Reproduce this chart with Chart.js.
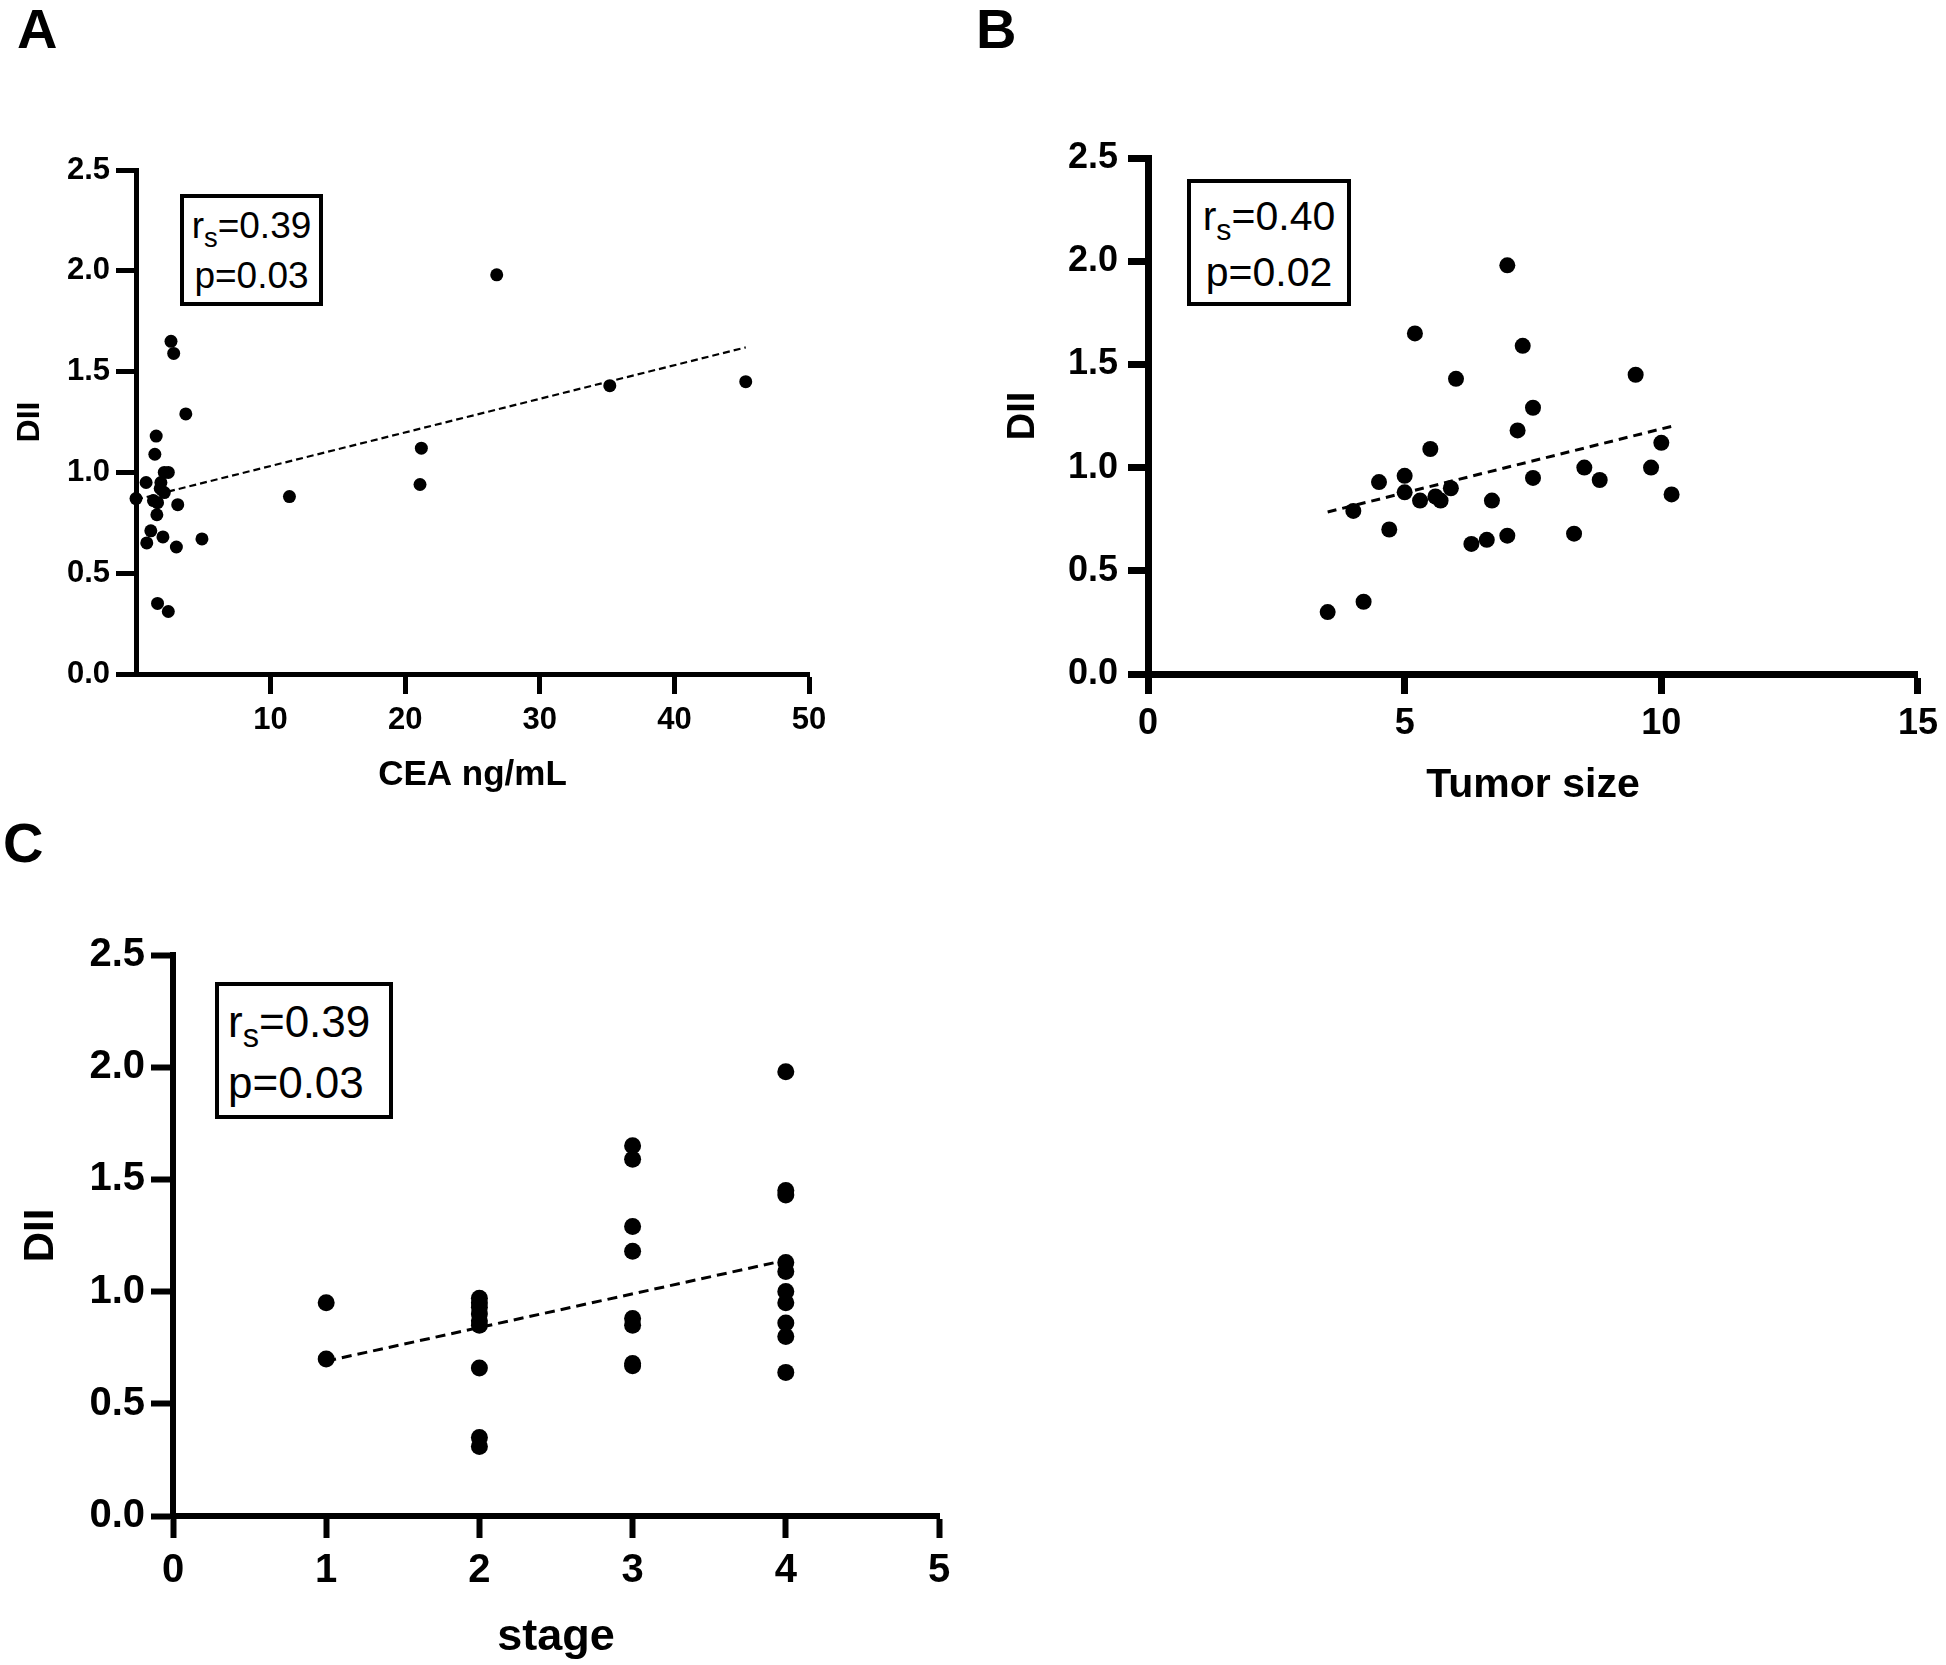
<!DOCTYPE html>
<html>
<head>
<meta charset="utf-8">
<title>DII correlations</title>
<script src="https://cdn.jsdelivr.net/npm/chart.js@4.4.0/dist/chart.umd.min.js"></script>
<style>
  html, body { margin: 0; padding: 0; background: #fff; }
  #page { position: relative; width: 1946px; height: 1665px; overflow: hidden; font-family: "Liberation Sans", Arial, sans-serif; color: #000; }
  canvas { position: absolute; }
  .letter { position: absolute; font-weight: bold; font-size: 56px; line-height: 1; }
  .stat { position: absolute; box-sizing: border-box; border: 4px solid #000; background: #fff; }
  .stat sub { font-size: 0.74em; vertical-align: -0.32em; line-height: 0; }
</style>
</head>
<body>
<div id="page">
  <canvas id="chartA" width="960" height="820" style="left:0; top:0"></canvas>
  <canvas id="chartB" width="986" height="830" style="left:960px; top:0"></canvas>
  <canvas id="chartC" width="960" height="785" style="left:0; top:880px"></canvas>

  <div class="letter" style="left:17px; top:1px">A</div>
  <div class="letter" style="left:976px; top:1px">B</div>
  <div class="letter" style="left:3px; top:815px">C</div>

  <div class="stat" style="left:180px; top:194px; width:143px; height:112px; font-size:37px; line-height:50px; text-align:center; padding-top:3px">r<sub>s</sub>=0.39<br>p=0.03</div>
  <div class="stat" style="left:1187px; top:179px; width:164px; height:127px; font-size:41px; line-height:56px; text-align:center; padding-top:5px">r<sub>s</sub>=0.40<br>p=0.02</div>
  <div class="stat" style="left:215px; top:982px; width:178px; height:137px; font-size:44px; line-height:61px; text-align:left; padding-left:9px; padding-top:5px">r<sub>s</sub>=0.39<br>p=0.03</div>
</div>

<script>
// Y axis ticks, same for all panels
const diiTicks = [0, 0.5, 1.0, 1.5, 2.0, 2.5];

// Panel A - CEA ng/mL vs DII
const ceaTicks = [10, 20, 30, 40, 50];
const ceaValues = [0.0, 0.75, 0.8, 1.1, 1.3, 1.4, 1.5, 1.55, 1.6, 1.6, 1.8, 1.85, 2.0, 2.1, 2.1, 2.4, 2.4, 2.6, 2.8, 3.0, 3.1, 3.7, 4.9, 11.4, 21.2, 21.1, 26.8, 35.2, 45.3];
const ceaDii = [0.87, 0.95, 0.65, 0.71, 0.86, 1.09, 1.18, 0.79, 0.85, 0.35, 0.92, 0.95, 0.68, 1.0, 0.9, 1.0, 0.31, 1.65, 1.59, 0.63, 0.84, 1.29, 0.67, 0.88, 1.12, 0.94, 1.98, 1.43, 1.45];
const ceaTrendX = [0, 45.3];
const ceaTrendY = [0.865, 1.62];

// Panel B - tumor size vs DII
const sizeTicks = [0, 5, 10, 15];
const sizeValues = [3.5, 4.0, 4.2, 4.5, 4.7, 5.0, 5.0, 5.2, 5.3, 5.5, 5.6, 5.7, 5.9, 6.0, 6.3, 6.6, 6.7, 7.0, 7.0, 7.2, 7.3, 7.5, 7.5, 8.3, 8.5, 8.8, 9.5, 9.8, 10.0, 10.2];
const sizeDii = [0.30, 0.79, 0.35, 0.93, 0.70, 0.96, 0.88, 1.65, 0.84, 1.09, 0.86, 0.84, 0.90, 1.43, 0.63, 0.65, 0.84, 1.98, 0.67, 1.18, 1.59, 1.29, 0.95, 0.68, 1.00, 0.94, 1.45, 1.00, 1.12, 0.87];
const sizeTrendX = [3.5, 10.2];
const sizeTrendY = [0.785, 1.2];

// Panel C - stage vs DII
const stageTicks = [0, 1, 2, 3, 4, 5];
const stageValues = [1, 1,
  2, 2, 2, 2, 2, 2, 2, 2, 2,
  3, 3, 3, 3, 3, 3, 3, 3,
  4, 4, 4, 4, 4, 4, 4, 4, 4, 4];
const stageDii = [0.95, 0.70,
  0.97, 0.95, 0.93, 0.90, 0.87, 0.85, 0.66, 0.35, 0.31,
  1.65, 1.59, 1.29, 1.18, 0.88, 0.85, 0.68, 0.67,
  1.98, 1.45, 1.43, 1.13, 1.09, 1.00, 0.95, 0.86, 0.80, 0.64];
const stageTrendX = [1, 4];
const stageTrendY = [0.69, 1.14];

const FONT = '"Liberation Sans", Arial, sans-serif';

function toPoints(xs, ys) {
  return xs.map((x, i) => ({ x: x, y: ys[i] }));
}

function boldFont(size) {
  return { family: FONT, size: size, weight: 'bold', lineHeight: 1.2 };
}

// Build one scatter panel; p.area is the plot box in canvas pixels
function makePanel(id, p) {
  const canvas = document.getElementById(id);
  const W = canvas.width, H = canvas.height;
  const axisGrid = { drawOnChartArea: false, drawTicks: true, tickLength: p.tick, tickWidth: p.axisWidth, tickColor: '#000' };
  const axisBorder = { display: true, width: p.axisWidth, color: '#000' };

  return new Chart(canvas, {
    type: 'scatter',
    data: {
      datasets: [
        {
          data: toPoints(p.xs, p.ys),
          pointRadius: p.dot,
          pointHoverRadius: p.dot,
          backgroundColor: '#000',
          borderWidth: 0,
          clip: false,
          order: 0
        },
        {
          data: toPoints(p.trendX, p.trendY),
          showLine: true,
          borderColor: '#000',
          borderWidth: p.dashWidth,
          borderDash: p.dash,
          pointRadius: 0,
          clip: false,
          order: 1
        }
      ]
    },
    options: {
      responsive: false,
      animation: false,
      events: [],
      layout: { padding: { left: 0, top: p.area.top, right: W - p.area.right, bottom: 0 } },
      plugins: { legend: { display: false }, tooltip: { enabled: false } },
      scales: {
        x: {
          type: 'linear',
          min: p.xMin,
          max: p.xMax,
          afterBuildTicks: (s) => { s.ticks = p.xTicks.map((v) => ({ value: v })); },
          afterFit: (s) => { s.height = H - p.area.bottom; },
          ticks: { font: boldFont(p.tickSize), color: '#000', padding: p.xPad, maxRotation: 0, autoSkip: false, callback: (v) => String(v) },
          grid: axisGrid,
          border: axisBorder,
          title: { display: true, text: p.xTitle, font: boldFont(p.titleSize), color: '#000', padding: { top: 0, bottom: p.xTitlePad } }
        },
        y: {
          type: 'linear',
          min: 0,
          max: 2.5,
          afterBuildTicks: (s) => { s.ticks = diiTicks.map((v) => ({ value: v })); },
          afterFit: (s) => { s.width = p.area.left; },
          ticks: { font: boldFont(p.tickSize), color: '#000', padding: p.yPad, autoSkip: false, callback: (v) => Number(v).toFixed(1) },
          grid: axisGrid,
          border: axisBorder,
          title: { display: true, text: 'DII', font: boldFont(p.yTitleSize), color: '#000', padding: { top: p.yTitlePad, bottom: 0 } }
        }
      }
    }
  });
}

makePanel('chartA', {
  xs: ceaValues, ys: ceaDii, trendX: ceaTrendX, trendY: ceaTrendY,
  xTicks: ceaTicks, xMin: 0, xMax: 50, xTitle: 'CEA ng/mL',
  area: { left: 136, top: 170, right: 809, bottom: 674 },
  tickSize: 31, tick: 20, axisWidth: 5, xPad: 8, yPad: 6,
  titleSize: 35, xTitlePad: 24, yTitleSize: 32, yTitlePad: 11,
  dot: 6.5, dash: [7, 4], dashWidth: 2.2
});

makePanel('chartB', {
  xs: sizeValues, ys: sizeDii, trendX: sizeTrendX, trendY: sizeTrendY,
  xTicks: sizeTicks, xMin: 0, xMax: 15, xTitle: 'Tumor size',
  area: { left: 188, top: 158, right: 962, bottom: 674 },
  tickSize: 36, tick: 20, axisWidth: 7, xPad: 8, yPad: 10,
  titleSize: 41, xTitlePad: 20, yTitleSize: 38, yTitlePad: 41,
  dot: 8, dash: [9, 6], dashWidth: 3
});

makePanel('chartC', {
  xs: stageValues, ys: stageDii, trendX: stageTrendX, trendY: stageTrendY,
  xTicks: stageTicks, xMin: 0, xMax: 5, xTitle: 'stage',
  area: { left: 173, top: 75, right: 939, bottom: 636 },
  tickSize: 40, tick: 22, axisWidth: 6, xPad: 9, yPad: 6,
  titleSize: 45, xTitlePad: 0, yTitleSize: 42, yTitlePad: 16,
  dot: 8.5, dash: [10, 6], dashWidth: 3
});
</script>
</body>
</html>
